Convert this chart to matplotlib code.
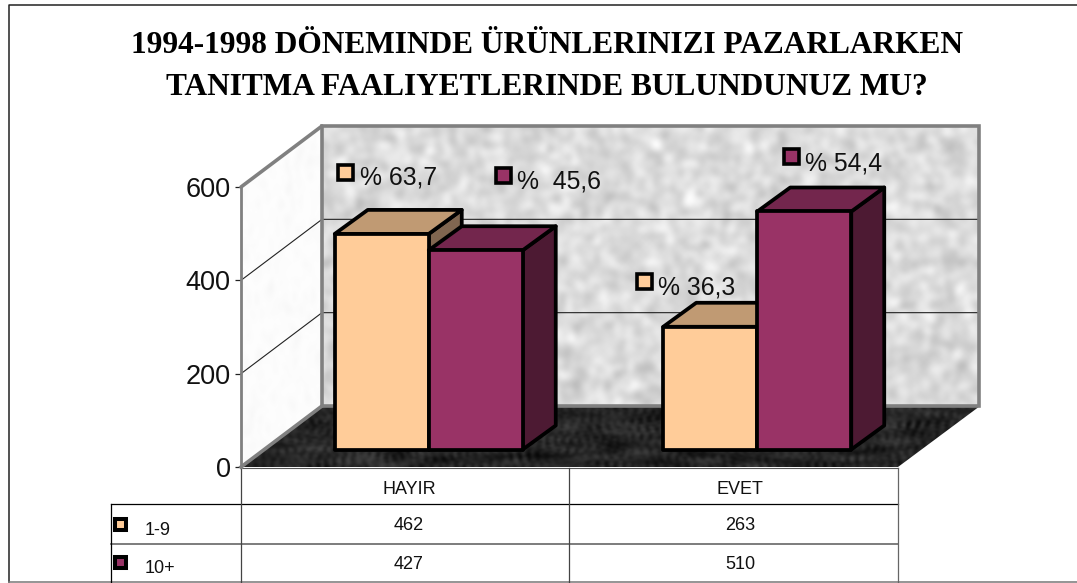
import numpy as np
import matplotlib
matplotlib.use("Agg")
import matplotlib.pyplot as plt
from matplotlib.patches import Polygon, Rectangle

categories = ["HAYIR", "EVET"]
series_names = ["1-9", "10+"]
values_small = [462, 263]
values_large = [427, 510]
y_ticks = [0, 200, 400, 600]
title_lines = ["1994-1998 DÖNEMINDE ÜRÜNLERINIZI PAZARLARKEN",
               "TANITMA FAALIYETLERINDE BULUNDUNUZ MU?"]
percent_labels = ["% 63,7", "%  45,6", "% 36,3", "% 54,4"]

# colours: front, top, side
peach = ["#FFCC99", "#C09A73", "#806650"]
maroon = ["#993366", "#73264D", "#4D1A33"]
wall_gray = "#808080"

W, H = 1077, 583
# front plane of the 3d box in pixels
LEFT, RIGHT, TOP, BOTTOM = 241, 898, 187, 467
px_x = (RIGHT - LEFT) / 2.0     # pixels per category
px_y = (BOTTOM - TOP) / 600.0   # pixels per value

wall_dx, wall_dy = 81 / px_x, 61 / px_y
bar_dx, bar_dy = 33 / px_x, 24 / px_y
base_dx, base_dy = 23.5 / px_x, 17.5 / px_y
bar_w = 94 / px_x


def texture(rows, cols, seed, blur, sx=1, sy=1):
    # deterministic speckle, only used for the wall and floor fill
    yy, xx = np.mgrid[0:rows, 0:cols]
    n = np.sin(xx * 12.9898 + yy * 78.233 + seed) * 43758.5453
    n = n - np.floor(n)
    for _ in range(blur):
        n = (n + np.roll(n, sx, 1) + np.roll(n, -sx, 1)
             + np.roll(n, sy, 0) + np.roll(n, -sy, 0)) / 5.0
    return (n - n.mean()) / n.std()


fig = plt.figure(figsize=(W / 100, H / 100), dpi=100)
plt.rcParams["font.family"] = ["Liberation Sans", "DejaVu Sans"]

# pixel layer: frame, wall fills, title, table
bg = fig.add_axes([0, 0, 1, 1])
bg.set_xlim(0, W)
bg.set_ylim(H, 0)
bg.axis("off")

bg.plot([8.5, 8.5, W], [582, 4.5, 4.5], color="#222222", lw=1.1, clip_on=False)
bg.plot([8.5, W], [582, 582], color="#777777", lw=1.1, clip_on=False)

for i, line in enumerate(title_lines):
    bg.text(547, 53 + i * 42, line, ha="center", va="baseline", fontsize=22.6,
            fontweight="bold", family=["Liberation Serif", "DejaVu Serif"], color="black")

tex = 0.86 + 0.035 * texture(94, 220, 1.0, 3)
bg.imshow(tex, cmap="gray", vmin=0, vmax=1, extent=(322, 979, 406, 126), aspect="auto",
          interpolation="bicubic", zorder=1)

tex = 0.995 - 0.01 * np.abs(texture(70, 30, 4.0, 2))
im = bg.imshow(tex, cmap="gray", vmin=0, vmax=1, extent=(241, 322, 467, 126), aspect="auto",
               interpolation="bicubic", zorder=1)
im.set_clip_path(Polygon([(241, 187), (322, 126), (322, 406), (241, 467)], transform=bg.transData))

tex = 0.15 + 0.05 * texture(30, 250, 7.0, 2, sx=3)
im = bg.imshow(tex, cmap="gray", vmin=0, vmax=1, extent=(241, 980, 467, 406), aspect="auto",
               interpolation="bicubic", zorder=1)
im.set_clip_path(Polygon([(241, 467), (322, 406), (980, 406), (898, 467)], transform=bg.transData))
bg.set_xlim(0, W)
bg.set_ylim(H, 0)

# table under the chart
bg.plot([241, 898], [468, 468], color="#555555", lw=0.8, zorder=2)
bg.plot([110.5, 898], [504, 504], color="black", lw=0.9)
bg.plot([110.5, 898], [544, 544], color="#666666", lw=1.2)
bg.plot([110.5, 110.5], [504, 582], color="black", lw=0.9)
bg.plot([241, 241], [468, 582], color="#444444", lw=0.9)
bg.plot([569, 569], [468, 582], color="#444444", lw=0.9)
bg.plot([898, 898], [468, 582], color="#666666", lw=0.9)

col_x = [409, 740]
for x, name, a, b in zip(col_x, categories, values_small, values_large):
    bg.text(x, 494, name, ha="center", va="baseline", fontsize=13, color="#111111")
    bg.text(x, 530, str(a), ha="center", va="baseline", fontsize=13, color="#111111")
    bg.text(x, 569, str(b), ha="center", va="baseline", fontsize=13, color="#111111")

for name, colors, y_box, y_text in zip(series_names, [peach, maroon], [517, 555], [535, 573]):
    bg.add_patch(Rectangle((115, y_box + 2), 10.5, 10.5, fc=colors[0], ec="black", lw=2.9))
    bg.text(145, y_text, name, ha="left", va="baseline", fontsize=13, color="#111111")

# percent labels with their small key boxes
label_spots = [(338, 165, 360, 185), (496, 168, 517, 188), (637, 274, 658, 295), (784, 149, 805, 170)]
label_colors = [peach, maroon, peach, maroon]
for text, spot, colors in zip(percent_labels, label_spots, label_colors):
    bx, by, tx, ty = spot
    bg.add_patch(Rectangle((bx, by), 15, 15, fc=colors[0], ec="black", lw=2.6, zorder=6))
    bg.text(tx, ty, text, ha="left", va="baseline", fontsize=17.8, color="#111111", zorder=6)

# value layer: axes sits exactly on the front plane of the box
ax = fig.add_axes([LEFT / W, 1 - BOTTOM / H, (RIGHT - LEFT) / W, (BOTTOM - TOP) / H])
ax.set_xlim(0, 2)
ax.set_ylim(0, 600)
ax.patch.set_visible(False)
for s in ["top", "right", "bottom"]:
    ax.spines[s].set_visible(False)
ax.spines["left"].set_color(wall_gray)
ax.spines["left"].set_linewidth(2)
ax.set_xticks([])
ax.set_yticks(y_ticks)
ax.tick_params(axis="y", labelsize=19.5, length=4, width=0.9, pad=3.5, color="#222222", labelcolor="#111111")

# gridlines along side wall and back wall
for v in y_ticks[1:3]:
    ax.plot([0, wall_dx, 2 + wall_dx], [v, v + wall_dy, v + wall_dy], color="#222222", lw=0.8,
            clip_on=False, zorder=2)

# wall borders
ax.plot([0, wall_dx], [600, 600 + wall_dy], color=wall_gray, lw=2.6, clip_on=False, zorder=2,
        solid_capstyle="round")
ax.plot([0, wall_dx], [0, wall_dy], color=wall_gray, lw=2.6, clip_on=False, zorder=2)
ax.add_patch(Rectangle((wall_dx, wall_dy), 2, 600, fc="none", ec=wall_gray, lw=2.6, clip_on=False, zorder=2))


def draw_bar(left, height, colors):
    right = left + bar_w
    top = base_dy + height
    bottom = base_dy
    style = dict(ec="black", lw=2.7, joinstyle="round", clip_on=False, zorder=4)
    ax.add_patch(Polygon([(right, bottom), (right + bar_dx, bottom + bar_dy),
                          (right + bar_dx, top + bar_dy), (right, top)], fc=colors[2], **style))
    ax.add_patch(Polygon([(left, top), (left + bar_dx, top + bar_dy),
                          (right + bar_dx, top + bar_dy), (right, top)], fc=colors[1], **style))
    ax.add_patch(Rectangle((left, bottom), bar_w, height, fc=colors[0], **style))


for i in range(len(categories)):
    center = i + 0.5 + base_dx
    draw_bar(center - bar_w, values_small[i], peach)
    draw_bar(center, values_large[i], maroon)

fig.savefig("out.png", dpi=100)
